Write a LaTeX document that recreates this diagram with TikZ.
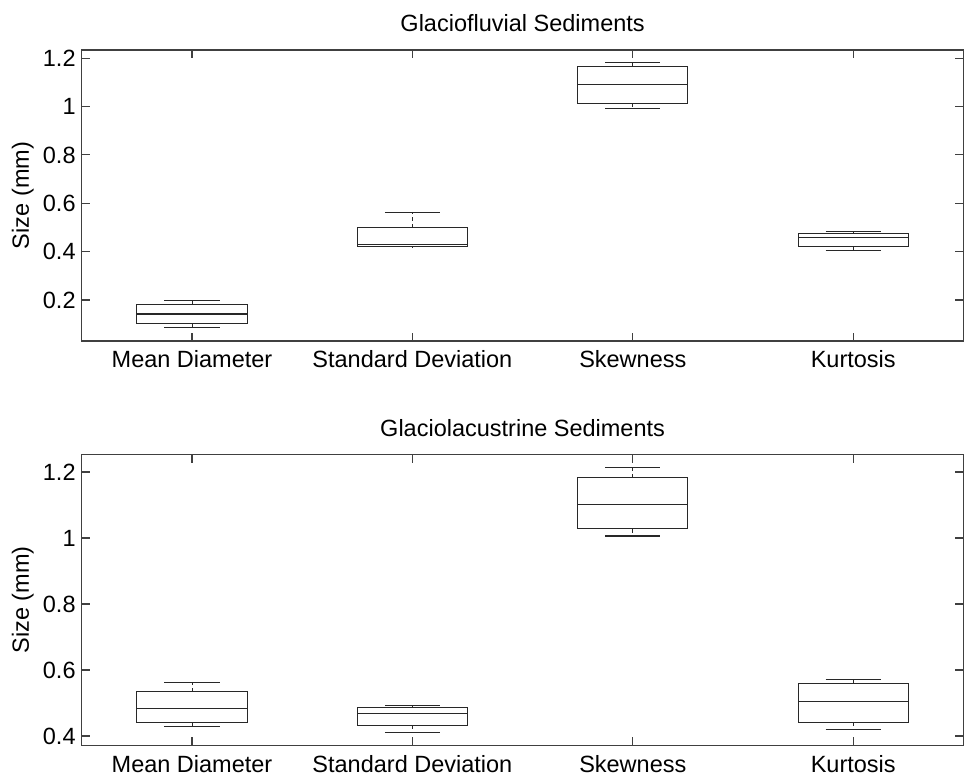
\documentclass[tikz,border=0pt]{standalone}
\usepackage{fontspec}
\setmainfont{Liberation Sans}
\usepackage{xcolor}
\definecolor{AxisGray}{RGB}{64,64,64}
\definecolor{BoxBlack}{RGB}{40,40,40}
\usetikzlibrary{positioning}
\usetikzlibrary{calc}

\begin{document}
\begin{tikzpicture}[
      , axis-box/.style={draw=AxisGray, line width=1.3pt}
      , tick-mark/.style={draw=AxisGray, line width=1.1pt}
      , box-line/.style={draw=BoxBlack, line width=1.1pt}
      , whisker/.style={draw=BoxBlack, line width=1pt, dash pattern=on 4pt off 3pt}
      , lbl/.style={font=\fontsize{23.5}{26}\selectfont, text=black, inner sep=0pt}
      ]

      \useasboundingbox (0,0) rectangle (967pt,-776pt);

      % top panel: glaciofluvial
      \begin{scope}[shift={(-28.4pt,-348.3pt)}, x=220.4pt, y=241.7pt]
        \coordinate (fl-sw) at (0.5,0.0304);
        \coordinate (fl-ne) at (4.5,1.234);
        \coordinate (fl-nw) at (0.5,1.234);
        \draw[axis-box] (fl-sw) rectangle (fl-ne);

        \foreach \v [count=\k] in {0.2,0.4,0.6,0.8,1,1.2} {
          \draw[tick-mark] (0.5,\v) -- ++(8pt,0);
          \draw[tick-mark] (4.5,\v) -- ++(-8pt,0);
          \node[lbl, anchor=east, xshift=-6pt] (fl-y\k) at (0.5,\v) {\v};
        }
        \foreach \i/\lab in {1/Mean Diameter,2/Standard Deviation,3/Skewness,4/Kurtosis} {
          \draw[tick-mark] (\i,0.0304) -- ++(0,8pt);
          \draw[tick-mark] (\i,1.234) -- ++(0,-8pt);
          \node[lbl, anchor=base, yshift=-27pt] (fl-x\i) at (\i,0.0304) {\lab};
        }

        \foreach \i/\lo/\qa/\md/\qb/\hi in {1/0.086/0.101/0.142/0.182/0.196,
            2/0.420/0.421/0.428/0.499/0.561, 3/0.993/1.014/1.091/1.165/1.183,
            4/0.404/0.423/0.458/0.476/0.485} {
          \draw[whisker] (\i,\qb) -- (\i,\hi);
          \draw[whisker] (\i,\qa) -- (\i,\lo);
          \draw[box-line] (\i-0.125,\hi) -- (\i+0.125,\hi);
          \draw[box-line] (\i-0.125,\lo) -- (\i+0.125,\lo);
          \draw[box-line] (\i-0.25,\qa) rectangle (\i+0.25,\qb);
          \draw[box-line] (\i-0.25,\md) -- (\i+0.25,\md);
        }
      \end{scope}

      \node[lbl, above = 18pt of $(fl-nw)!0.5!(fl-ne)$] (fl-title) {Glaciofluvial Sediments};
      \node[lbl, rotate=90] (fl-ylabel) at ($(fl-sw)!0.5!(fl-nw) + (-59pt,0)$) {Size (mm)};

      % bottom panel: glaciolacustrine
      \begin{scope}[shift={(-28.4pt,-868pt)}, x=220.4pt, y=330pt]
        \coordinate (gl-sw) at (0.5,0.372);
        \coordinate (gl-ne) at (4.5,1.252);
        \coordinate (gl-nw) at (0.5,1.252);
        \draw[axis-box] (gl-sw) rectangle (gl-ne);

        \foreach \v [count=\k] in {0.4,0.6,0.8,1,1.2} {
          \draw[tick-mark] (0.5,\v) -- ++(8pt,0);
          \draw[tick-mark] (4.5,\v) -- ++(-8pt,0);
          \node[lbl, anchor=east, xshift=-6pt] (gl-y\k) at (0.5,\v) {\v};
        }
        \foreach \i/\lab in {1/Mean Diameter,2/Standard Deviation,3/Skewness,4/Kurtosis} {
          \draw[tick-mark] (\i,0.372) -- ++(0,8pt);
          \draw[tick-mark] (\i,1.252) -- ++(0,-8pt);
          \node[lbl, anchor=base, yshift=-27.4pt] (gl-x\i) at (\i,0.372) {\lab};
        }

        \foreach \i/\lo/\qa/\md/\qb/\hi in {1/0.428/0.4415/0.482/0.534/0.563,
            2/0.411/0.4325/0.469/0.487/0.492, 3/1.006/1.028/1.102/1.182/1.213,
            4/0.419/0.4415/0.504/0.558/0.572} {
          \draw[whisker] (\i,\qb) -- (\i,\hi);
          \draw[whisker] (\i,\qa) -- (\i,\lo);
          \draw[box-line] (\i-0.125,\hi) -- (\i+0.125,\hi);
          \draw[box-line] (\i-0.125,\lo) -- (\i+0.125,\lo);
          \draw[box-line] (\i-0.25,\qa) rectangle (\i+0.25,\qb);
          \draw[box-line] (\i-0.25,\md) -- (\i+0.25,\md);
        }
      \end{scope}

      \node[lbl, above = 18pt of $(gl-nw)!0.5!(gl-ne)$] (gl-title) {Glaciolacustrine Sediments};
      \node[lbl, rotate=90] (gl-ylabel) at ($(gl-sw)!0.5!(gl-nw) + (-59pt,0)$) {Size (mm)};
    \end{tikzpicture}
\end{document}
